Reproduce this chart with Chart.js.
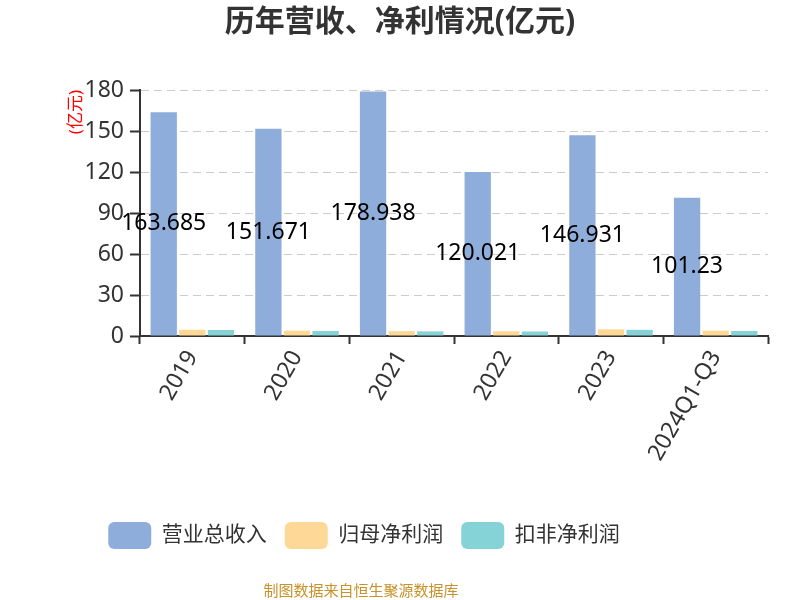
<!DOCTYPE html>
<html>
<head>
<meta charset="utf-8">
<script src="https://cdn.jsdelivr.net/npm/chart.js@4/dist/chart.umd.min.js"></script>
<style>
  html, body { margin: 0; padding: 0; background: #fff; }
</style>
</head>
<body>
<canvas id="chart" width="800" height="600"></canvas>
<script>
const years = ['2019', '2020', '2021', '2022', '2023', '2024Q1-Q3'];
const revenue = [163.685, 151.671, 178.938, 120.021, 146.931, 101.23];
const netProfit = [4.6, 3.9, 3.6, 3.5, 4.9, 3.9];
const deductedProfit = [4.4, 3.7, 3.4, 3.3, 4.5, 3.7];
const yTicks = [0, 30, 60, 90, 120, 150, 180];

const colors = {
  revenue: '#8fadda',
  netProfit: '#fed897',
  deducted: '#86d3d7',
  text: '#333333',
  grid: '#cccccc',
  footer: '#c8922a'
};

Chart.defaults.font.family = '"Noto Sans", "Noto Sans CJK SC", sans-serif';
Chart.defaults.color = colors.text;

// value labels centred inside the revenue bars
const barLabels = {
  id: 'barLabels',
  afterDraw(chart) {
    const ctx = chart.ctx;
    const meta = chart.getDatasetMeta(0);
    ctx.save();
    ctx.font = '23px "Noto Sans", sans-serif';
    ctx.fillStyle = '#000';
    ctx.textAlign = 'center';
    ctx.textBaseline = 'middle';
    meta.data.forEach((bar, i) => {
      ctx.fillText(String(revenue[i]), bar.x, (bar.y + bar.base) / 2);
    });
    ctx.restore();
  }
};

// title centred on the canvas, legend and footer a bit to the left
const boxShift = {
  id: 'boxShift',
  afterLayout(chart) {
    if (chart.titleBlock) { chart.titleBlock.left = 0; chart.titleBlock.right = 800; }
    if (chart.legend) { chart.legend.left = 0; chart.legend.right = 728; }
  },
  afterDraw(chart) {
    const ctx = chart.ctx;
    ctx.save();
    ctx.font = '15px "Noto Sans CJK SC", sans-serif';
    ctx.fillStyle = colors.footer;
    ctx.textAlign = 'center';
    ctx.textBaseline = 'middle';
    ctx.fillText('制图数据来自恒生聚源数据库', 361, 590);
    ctx.restore();
  }
};

new Chart(document.getElementById('chart'), {
  type: 'bar',
  data: {
    labels: years,
    datasets: [
      { label: '营业总收入', data: revenue, backgroundColor: colors.revenue },
      { label: '归母净利润', data: netProfit, backgroundColor: colors.netProfit },
      { label: '扣非净利润', data: deductedProfit, backgroundColor: colors.deducted }
    ]
  },
  options: {
    responsive: false,
    animation: false,
    categoryPercentage: 0.82,
    barPercentage: 0.92,
    layout: { padding: { left: 0, right: 32, top: 0, bottom: 41 } },
    plugins: {
      title: {
        display: true,
        text: '历年营收、净利情况(亿元)',
        color: colors.text,
        font: { size: 30, weight: 'bold' },
        padding: { top: 4, bottom: 50 }
      },
      legend: {
        position: 'bottom',
        labels: {
          boxWidth: 43,
          boxHeight: 27,
          useBorderRadius: true,
          borderRadius: 6,
          padding: 18,
          color: colors.text,
          font: { size: 21 }
        }
      },
      tooltip: { enabled: false }
    },
    scales: {
      x: {
        grid: {
          drawOnChartArea: false,
          offset: true,
          tickLength: 8,
          tickWidth: 2,
          tickColor: colors.text
        },
        border: { color: colors.text, width: 2 },
        ticks: {
          color: colors.text,
          font: { size: 23 },
          minRotation: 60,
          maxRotation: 60,
          padding: 2
        },
        afterFit: (scale) => { scale.height = 168; }
      },
      y: {
        min: 0,
        max: 180,
        afterBuildTicks: (scale) => { scale.ticks = yTicks.map(v => ({ value: v })); },
        grid: {
          color: colors.grid,
          tickLength: 10,
          tickWidth: 2,
          tickColor: colors.text
        },
        border: { color: colors.text, width: 2, dash: [8, 5] },
        ticks: {
          color: colors.text,
          font: { size: 23 },
          padding: 6
        },
        title: {
          display: true,
          text: '(亿元)',
          color: '#ff0000',
          align: 'end',
          font: { size: 17 },
          padding: { top: 66, bottom: 0 }
        },
        afterFit: (scale) => { scale.width = 140; }
      }
    }
  },
  plugins: [barLabels, boxShift]
});
</script>
</body>
</html>
